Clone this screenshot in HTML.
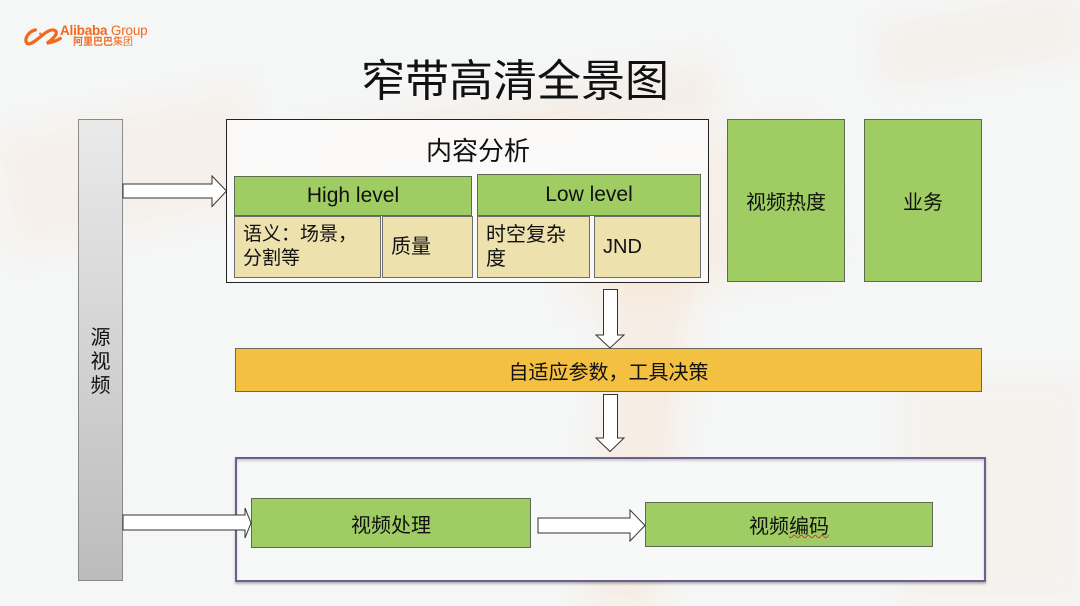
<!DOCTYPE html>
<html><head><meta charset="utf-8">
<style>
*{margin:0;padding:0;box-sizing:border-box}
html,body{width:1080px;height:606px;overflow:hidden}
body{position:relative;background:#f5f6f6;font-family:"Liberation Sans","Noto Sans CJK SC",sans-serif;color:#111}
.a{position:absolute}
.bg{position:absolute;filter:blur(14px);border-radius:8px}
.box{position:absolute;display:flex;align-items:center;justify-content:center;text-align:center}
.g{background:#9fcd63;border:1px solid #5e6a52}
.k{background:#ede2ae;border:1px solid #6d6d6d}
.cell{position:absolute;font-size:19px;line-height:24px;padding-left:8px;display:flex;align-items:center}
</style></head><body>
<!-- faint background decoration -->
<div class="bg" style="left:0;top:110px;width:260px;height:120px;background:rgba(245,200,160,0.12);transform:rotate(-12deg)"></div>
<div class="bg" style="left:300px;top:95px;width:420px;height:60px;background:rgba(245,200,160,0.16);transform:rotate(-10deg)"></div>
<div class="bg" style="left:560px;top:140px;width:260px;height:150px;background:rgba(245,195,150,0.14);transform:rotate(-10deg)"></div>
<div class="bg" style="left:600px;top:230px;width:80px;height:380px;background:rgba(248,200,150,0.18);transform:rotate(6deg)"></div>
<div class="bg" style="left:880px;top:10px;width:200px;height:60px;background:rgba(240,220,200,0.25);transform:rotate(-10deg)"></div>
<div class="bg" style="left:900px;top:380px;width:180px;height:220px;background:rgba(245,210,180,0.12)"></div>

<!-- logo -->
<svg class="a" style="left:24px;top:26px" width="42" height="23" viewBox="0 0 44 24">
<path d="M12 4 C4 6 0 14 3 18 C6 21 14 14 20 9 C26 4 30 3 33 5 C36 8 30 14 24 18 C30 17 35 15 38 13" fill="none" stroke="#f06a1e" stroke-width="3.4" stroke-linecap="round"/>
<circle cx="17" cy="8" r="1.3" fill="#f06a1e"/>
</svg>
<div class="a" style="left:60px;top:24px;font-size:13.5px;font-weight:bold;color:#f06a1e;line-height:14px;letter-spacing:-0.2px">Alibaba <span style="font-weight:normal">Group</span></div>
<div class="a" style="left:73px;top:38px;font-size:10px;color:#f06a1e;line-height:10px;font-weight:bold">阿里巴巴<span style="font-weight:normal">集团</span></div>

<!-- title -->
<div class="a" style="left:338px;top:56px;width:354px;text-align:center;font-size:44px;line-height:52px;color:#111">窄带高清全景图</div>

<!-- source video bar -->
<div class="a" style="left:78px;top:119px;width:45px;height:462px;background:linear-gradient(#eaeaea,#bcbcbc);border:1px solid #8a8a8a"></div>
<div class="a" style="left:78px;top:326px;width:45px;text-align:center;font-size:20px;line-height:24px">源<br>视<br>频</div>

<!-- content analysis -->
<div class="a" style="left:226px;top:119px;width:483px;height:164px;border:1.5px solid #222;background:rgba(250,250,250,0.85)"></div>
<div class="a" style="left:222px;top:135px;width:512px;text-align:center;font-size:26px;line-height:32px">内容分析</div>
<div class="box g" style="left:234px;top:176px;width:238px;height:40px;font-size:21px">High level</div>
<div class="box g" style="left:477px;top:174px;width:224px;height:42px;font-size:21px">Low level</div>
<div class="cell k" style="left:234px;top:216px;width:147px;height:62px">语义：场景，<br>分割等</div>
<div class="cell k" style="left:382px;top:216px;width:91px;height:62px;font-size:20px">质量</div>
<div class="cell k" style="left:477px;top:216px;width:113px;height:62px;font-size:20px">时空复杂<br>度</div>
<div class="cell k" style="left:594px;top:216px;width:107px;height:62px;font-size:20px">JND</div>

<div class="box g" style="left:727px;top:119px;width:118px;height:163px;font-size:20px">视频热度</div>
<div class="box g" style="left:864px;top:119px;width:118px;height:163px;font-size:20px">业务</div>

<!-- orange bar -->
<div class="box" style="left:235px;top:348px;width:747px;height:44px;background:#f3c042;border:1px solid #6a6a5a;font-size:20px">自适应参数，工具决策</div>

<!-- bottom box -->
<div class="a" style="left:235px;top:457px;width:751px;height:125px;border:2px solid #6e5e8e;background:#f7f8f8;box-shadow:0 2px 2px rgba(120,120,120,0.5), inset 0 2px 2px rgba(120,120,120,0.35)"></div>
<div class="box g" style="left:251px;top:498px;width:280px;height:50px;font-size:20px">视频处理</div>
<div class="box g" style="left:645px;top:502px;width:288px;height:45px;font-size:20px">视频<span style="text-decoration:underline wavy #d33;text-decoration-thickness:1px">编码</span></div>

<!-- arrows -->
<svg class="a" style="left:0;top:0" width="1080" height="606">
<g fill="#fff" stroke="#333" stroke-width="1">
<polygon points="123,184 212,184 212,176 226.5,191 212,206.5 212,198 123,198"/>
<polygon points="603.5,289.5 617.5,289.5 617.5,335 624,335 610,348 596,335 603.5,335"/>
<polygon points="603.5,394.5 617.5,394.5 617.5,438 624,438 610,451.5 596,438 603.5,438"/>
<polygon points="123,515 245,515 245,508 251,523 245,538 245,530 123,530"/>
<polygon points="538,518 630,518 630,510 645,525.5 630,541 630,533 538,533"/>
</g>
</svg>
</body></html>
